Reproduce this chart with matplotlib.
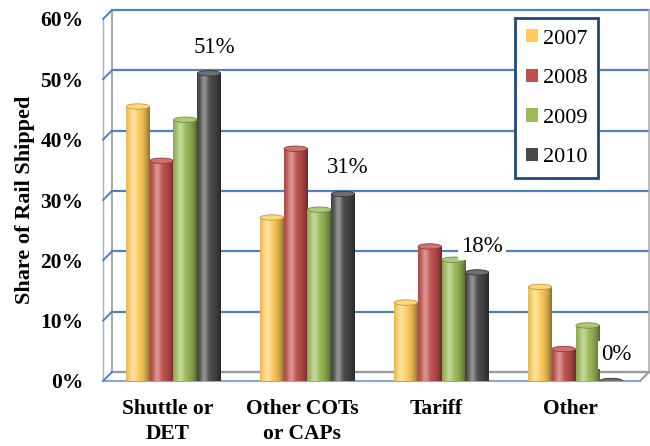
import numpy as np
import matplotlib
matplotlib.use('Agg')
import matplotlib.pyplot as plt
from matplotlib.patches import Ellipse, Patch
from matplotlib.transforms import offset_copy
from matplotlib.colors import to_rgb

plt.rcParams['font.family'] = ['Liberation Serif', 'DejaVu Serif']

categories = ['Shuttle or\nDET', 'Other COTs\nor CAPs', 'Tariff', 'Other']
years = ['2007', '2008', '2009', '2010']
share_2007 = [45.5, 27.1, 13.0, 15.6]
share_2008 = [36.5, 38.5, 22.3, 5.3]
share_2009 = [43.3, 28.4, 20.1, 9.2]
share_2010 = [51, 31, 18, 0]
series = [share_2007, share_2008, share_2009, share_2010]
colors = ['#FFCC5C', '#C0504D', '#9BBB59', '#4A4A4A']
yticks = [0, 10, 20, 30, 40, 50, 60]

fig = plt.figure(figsize=(6.5, 4.46), dpi=100)
ax = fig.add_axes([103 / 650, (446 - 381) / 446, 537 / 650, 362 / 446])
xmin, xmax = -0.485, 3.52
ax.set_xlim(xmin, xmax)
ax.set_ylim(0, 60)
for s in ax.spines.values():
    s.set_visible(False)

# back wall sits up and to the right of the front plane
back = offset_copy(ax.transData, fig=fig, x=9, y=9, units='dots')
blue = '#4F81BD'
for v in yticks:
    ax.plot([xmin, xmax], [v, v], color=blue, lw=1.6, transform=back,
            clip_on=False, zorder=0.5)
    ax.annotate('', xy=(xmin, v), xytext=(9, 9), textcoords='offset pixels',
                arrowprops=dict(arrowstyle='-', color=blue, lw=1.4,
                                shrinkA=0, shrinkB=0), annotation_clip=False)
grey = '#9A9A9A'
ax.plot([xmin, xmin], [0, 60], color=grey, lw=1.2, transform=back, clip_on=False, zorder=0.6)
ax.plot([xmax, xmax], [0, 60], color='#B0B0B0', lw=1.2, transform=back, clip_on=False, zorder=0.6)
ax.plot([xmin, xmax], [0, 0], color=grey, lw=1.5, transform=back, clip_on=False, zorder=0.6)
ax.plot([xmin, xmax], [0, 0], color='#8CA8CC', lw=1.5, clip_on=False, zorder=0.6)
ax.plot([xmin, xmin], [0, 60], color='#9DB3D4', lw=1.0, clip_on=False, zorder=0.6)
ax.annotate('', xy=(xmax, 0), xytext=(9, 9), textcoords='offset pixels',
            arrowprops=dict(arrowstyle='-', color=grey, lw=1.5,
                            shrinkA=0, shrinkB=0), annotation_clip=False)


def cylinder_strip(color, n=40):
    c = np.array(to_rgb(color))
    t = np.linspace(0, 1, n)
    light = 0.4 * np.exp(-((t - 0.3) / 0.16) ** 2)
    dark = 0.45 * (np.abs(t - 0.35) / 0.65) ** 2.5
    strip = c * (1 - light[:, None]) + light[:, None]
    strip = strip * (1 - dark[:, None])
    return strip[None, :, :]


x = np.arange(len(categories))
width = 0.177
depth = 0.04
for i, (vals, col) in enumerate(zip(series, colors)):
    xs = x + (i - 1.5) * width + depth
    strip = cylinder_strip(col)
    top = np.array(to_rgb(col)) * 0.8 + 0.2
    for xc, v in zip(xs, vals):
        if v > 0:
            ax.imshow(strip, extent=(xc - width / 2, xc + width / 2, 0, v),
                      aspect='auto', zorder=2, interpolation='bilinear')
        ax.add_patch(Ellipse((xc, v), width * 0.98, 0.9, facecolor=top,
                             edgecolor=np.array(to_rgb(col)) * 0.75, lw=0.6, zorder=3))

ax.set_xlim(xmin, xmax)
ax.set_ylim(0, 60)

# value labels on the 2010 series
for xc, v in zip(x + 1.5 * width + depth, share_2010):
    ax.annotate(f'{v}%', xy=(xc, v), xytext=(5, 26), textcoords='offset pixels',
                ha='center', va='center', fontsize=16.5, zorder=5,
                bbox=dict(boxstyle='square,pad=0.15', fc='white', ec='none'))

ax.set_yticks(yticks)
ax.set_yticklabels([f'{v}%' for v in yticks], fontsize=15.5, fontweight='bold')
ax.set_xticks(x)
ax.set_xticklabels(categories, fontsize=15.5, fontweight='bold', linespacing=1.35)
ax.tick_params(axis='y', length=0, pad=14)
ax.tick_params(axis='x', length=0, pad=13)
ax.set_ylabel('Share of Rail Shipped', fontsize=16, fontweight='bold', labelpad=4)

handles = [Patch(facecolor=c, edgecolor='none') for c in colors]
leg = ax.legend(handles, years, loc='upper left', bbox_to_anchor=(0.767, 1.003),
                borderaxespad=0, fontsize=16, handlelength=0.55, handleheight=0.55,
                handletextpad=0.2, labelspacing=0.9, borderpad=0.5,
                fancybox=False, framealpha=1)
leg.get_frame().set_edgecolor('#1F497D')
leg.get_frame().set_linewidth(2)
leg.set_zorder(6)

plt.savefig('out.png', dpi=100)
